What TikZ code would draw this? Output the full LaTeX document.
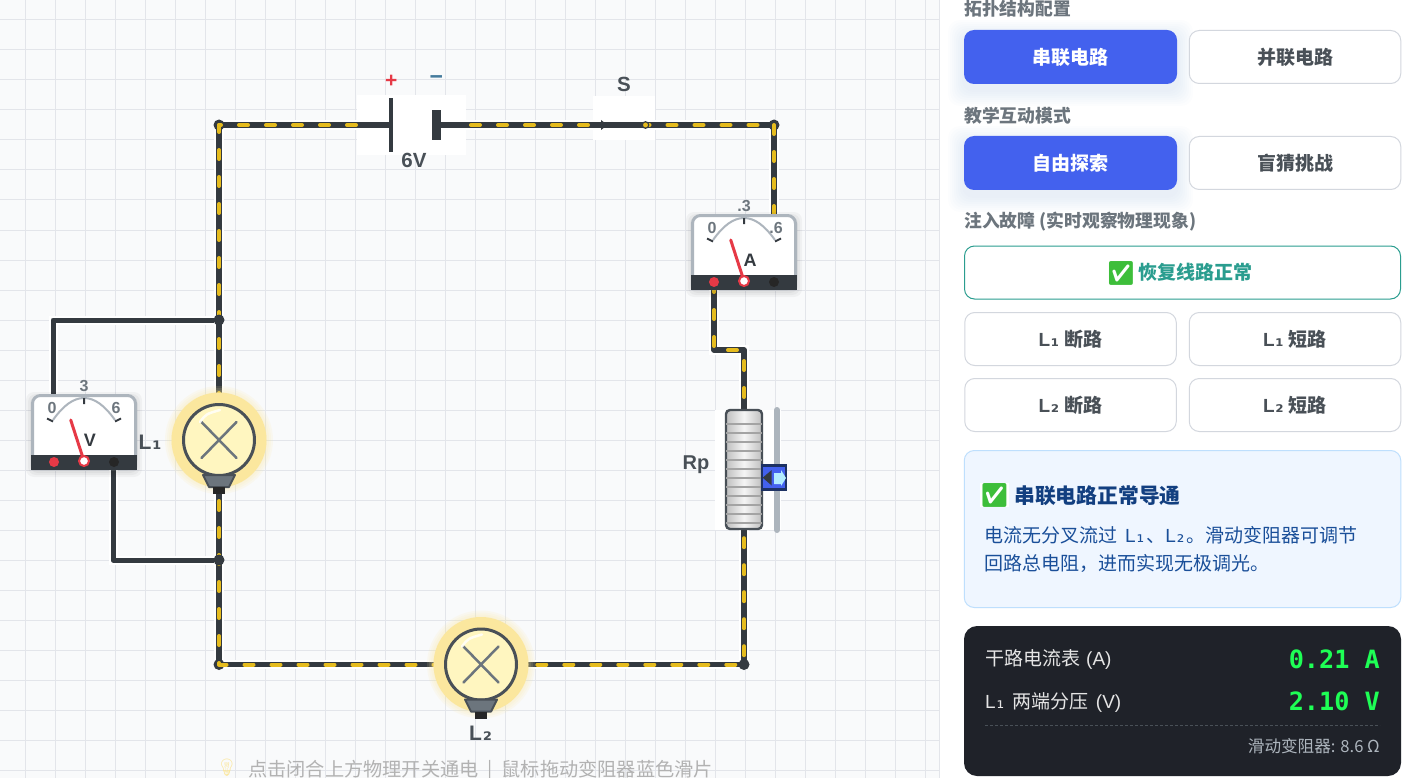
\documentclass[tikz,border=0pt]{standalone}
\usepackage{fontspec}
\setmainfont{Liberation Sans}
\newfontfamily\cjk{Noto Sans CJK SC}
\newfontfamily\mono{DejaVu Sans Mono}
\newfontfamily\emoji{Noto Emoji}
\newfontfamily\dejavu{DejaVu Sans}
\usetikzlibrary{arrows}
\pgfdeclarelayer{gridlayer}
\pgfdeclarelayer{wirelayer}
\pgfsetlayers{gridlayer,wirelayer,main}
\newcommand{\fs}[1]{\fontsize{#1}{#1}\selectfont}
\newcommand{\Lone}{{\rmfamily L\kern.8pt{\dejavu ₁}\kern.8pt}}
\newcommand{\Ltwo}{{\rmfamily L\kern.8pt{\dejavu ₂}\kern.8pt}}
\definecolor{canvasbg}{HTML}{F9FAFB}
\definecolor{gridcol}{HTML}{E3E5EA}
\definecolor{wiredark}{HTML}{343A40}
\definecolor{wireyel}{HTML}{E6BC1E}
\definecolor{rimgray}{HTML}{ADB5BD}
\definecolor{needlered}{HTML}{E63946}
\definecolor{minusblue}{HTML}{457B9D}
\definecolor{textgray}{HTML}{495057}
\definecolor{titlegray}{HTML}{6C757D}
\definecolor{btnblue}{HTML}{4361EE}
\definecolor{btnline}{HTML}{D3D7DE}
\definecolor{okteal}{HTML}{2A9D8F}
\definecolor{okgreen}{HTML}{3DBE3A}
\definecolor{infofill}{HTML}{EFF6FF}
\definecolor{infoline}{HTML}{BEDFFD}
\definecolor{infohead}{HTML}{123F80}
\definecolor{infotext}{HTML}{1A4F99}
\definecolor{darkpanel}{HTML}{1F2229}
\definecolor{lcdgreen}{HTML}{1EFF55}
\definecolor{glowcol}{HTML}{FBE79E}
\definecolor{glasscol}{HTML}{FFF6C0}
\definecolor{navy}{HTML}{1D3163}
\tikzset{
  pics/meter/.style n args={4}{code={
    \foreach \s in {1,3,5}
      \fill[black,opacity=.035,rounded corners=8pt] (-\s,3-\s) rectangle (106+\s,76+2+\s);
    \node[meter body] (-body) at (53,38) {};
    \fill[wiredark] (0,61) rectangle (106,76);
    \draw[rimgray,line width=2pt] (22,26) .. controls (32,12) and (42,4) .. (53,4) .. controls (64,4) and (74,12) .. (84,26);
    \draw[wiredark,line width=2pt] (16,24.5) -- (22,27.5) (53,4) -- (53,10) (90,24.5) -- (84,27.5);
    \node[meter scale] (-lo) at (21,13.5) {#2};
    \node[meter scale] (-mid) at (53,-8) {#3};
    \node[meter scale] (-hi) at (85,13.5) {#4};
    \node[meter sym] (-sym) at (59,46.5) {#1};
    \draw[needlered,line width=3pt,line cap=round] (53,67) -- (39.7,26);
    \fill[needlered] (23,68) circle (5);
    \fill[black!85] (83,68) circle (5);
    \draw[needlered,fill=white,line width=2pt] (53,67) circle (5);
  }},
  pics/lamp/.style={code={
    \foreach \s in {1,3,5,7}
      \fill[glowcol,opacity=.12] (0,0) circle (47+\s);
    \fill[glowcol] (0,0) circle (47.5);
    \node[lamp glass] (-glass) at (0,0) {};
    \draw[titlegray,line width=2.5pt,line cap=round] (-17.5,-18) -- (17.5,18) (17.5,-18) -- (-17.5,18);
    \draw[white,opacity=.8,line width=2.5pt,line cap=round] (-19,-18) .. controls (-13,-26) .. (1,-30);
    \draw[fill=titlegray,draw=textgray,line width=2pt,line join=round] (-16,35) -- (16,35) -- (10,47) -- (-10,47) -- cycle;
    \fill[black!85] (-6,47) rectangle (6,54);
  }},
}
\begin{document}
\begin{tikzpicture}[x=1pt,y=-1pt,
  gridline/.style={gridcol,line width=1pt},
  wire/.style={wiredark,line width=5.5pt,line join=round,preaction={draw=white,line width=9.5pt}},
  lead/.style={wiredark,line width=5pt,line join=round,preaction={draw=white,line width=9pt}},
  flow/.style={wireyel,line width=4pt,line join=round,line cap=round,dash pattern=on 9pt off 18pt,dash phase=#1},
  junction/.style={circle,fill=wiredark,minimum size=11pt,inner sep=0pt},
  plate/.style={rectangle,fill=wiredark,inner sep=0pt},
  meter body/.style={rectangle,draw=rimgray,fill=white,line width=3pt,rounded corners=8pt,
  minimum width=103pt,minimum height=73pt,inner sep=0pt},
  meter scale/.style={font=\bfseries\fs{16},text=titlegray,inner sep=0pt},
  meter sym/.style={font=\bfseries\fs{18},text=wiredark,inner sep=0pt},
  lamp glass/.style={circle,draw=textgray,fill=glasscol,line width=3pt,minimum size=71pt,inner sep=0pt},
  part label/.style={font=\bfseries\fs{20.5},text=textgray,inner sep=0pt},
  sub label/.style={font=\bfseries\fs{21},text=textgray,inner sep=0pt},
  section/.style={font=\cjk\bfseries\fs{17.8},text=titlegray,anchor=west,inner sep=0pt},
  btn on/.style={rectangle,fill=btnblue,text=white,rounded corners=10pt,font=\cjk\bfseries\fs{19},
  minimum width=213pt,minimum height=54pt,inner sep=0pt},
  btn off/.style={rectangle,draw=btnline,fill=white,text=textgray,line width=1pt,rounded corners=10pt,
  font=\cjk\bfseries\fs{19},minimum width=211.5pt,minimum height=53pt,inner sep=0pt},
  okbox/.style={rectangle,fill=white,text=okgreen,font=\emoji\fs{23.5},minimum size=17pt,inner sep=0pt},
  readout/.style={font=\cjk\fs{19},text=white!90!black,anchor=west,inner sep=0pt},
  lcd/.style={font=\mono\bfseries\fs{25.2},text=lcdgreen,anchor=east,inner sep=0pt}]

  \useasboundingbox (0,0) rectangle (1410,778);

  \begin{pgfonlayer}{gridlayer}
    %Page and grid%
    \fill[canvasbg] (0,0) rectangle (940,778);
    \foreach \x in {25,55,...,925}
      \draw[gridline] (\x,0) -- (\x,778);
    \foreach \y in {20,50,...,770}
      \draw[gridline] (0,\y) -- (940,\y);
    \fill[white] (940,0) rectangle (1410,778);
    \draw[gridcol] (939.5,0) -- (939.5,778);
  \end{pgfonlayer}

  %Corners and ports%
  \coordinate (tl) at (219,125);
  \coordinate (tr) at (774,125);
  \coordinate (bl) at (219,664.5);
  \coordinate (br) at (744,664.5);
  \coordinate (kneeA) at (714,350);
  \coordinate (kneeB) at (744,350);
  \coordinate (Vtop) at (53,394);
  \coordinate (Vbot) at (113,470);
  \coordinate (Atop) at (774,214);
  \coordinate (Abot) at (714,290);
  \coordinate (batL) at (357,125);
  \coordinate (batR) at (466,125);
  \coordinate (swL) at (592,125);

  %Battery%
  \node[plate,minimum width=4pt,minimum height=54pt] (batP) at (391,125) {};
  \node[plate,minimum width=9pt,minimum height=30pt] (batN) at (436.5,125) {};
  \node[font=\bfseries\fs{21},text=needlered,inner sep=0pt] (plus) at (391.3,81.5) {+};
  \node[font=\bfseries\fs{23},text=minusblue,inner sep=0pt] (minus) at (436.3,80.5) {−};
  \node[part label] (bat6V) at (414,160) {6V};

  %Switch%
  \node[part label] (swS) at (624,84.5) {S};
  \node[circle,fill=wireyel,draw=wiredark,line width=1.2pt,minimum size=6.5pt,inner sep=0pt] (swR) at (645.5,125) {};
  \fill[wiredark] (601,120) -- (607.5,125) -- (601,130) -- cycle;

  %Meters%
  \pic (V) at (31,394) {meter={V}{0}{3}{6}};
  \pic (A) at (691,214) {meter={A}{0}{.3}{.6}};

  %Lamps%
  \pic (L1) at (219,440) {lamp};
  \pic (L2) at (481,664.5) {lamp};
  \node[sub label] (L1name) at (150.5,442) {\Lone};
  \node[sub label] (L2name) at (481,733.5) {\Ltwo};

  %Rheostat%
  \draw[rimgray,line width=6pt,line cap=round] (777,410) -- (777,530);
  \node[rectangle,draw=textgray,line width=2.4pt,rounded corners=4pt,left color=black!25,right color=black!25,
  middle color=white!96!black,minimum width=36pt,minimum height=119pt,inner sep=0pt] (Rp) at (744,469.5) {};
  \foreach \y in {424,433,...,524}
    \draw[black!36,line width=1.5pt] (726,\y) -- (762,\y);
  \node[rectangle,draw=navy,fill=btnblue,line width=2.4pt,minimum size=24pt,inner sep=0pt] (slider) at (774,477.5) {};
  \fill[wiredark] (762.7,477.7) -- (771.7,470) -- (771.7,485.5) -- cycle;
  \fill[blue!25!cyan!30!white] (774,473) -- (781,473) -- (781,470) -- (786,478) -- (781,486) -- (781,484) -- (774,484) -- cycle;
  \node[part label,font=\bfseries\fs{20}] (RpName) at (696,465) {Rp};

  %Hint under the circuit%
  \node[font=\emoji\fs{17},text=glowcol,inner sep=0pt] (bulb) at (227,768) {💡};
  \node[font=\cjk\fs{19.2},text=black!30,anchor=west,inner sep=0pt] (hint) at (248,771) {点击闭合上方物理开关通电\hspace{9pt}|\hspace{9pt}鼠标拖动变阻器蓝色滑片};

  \begin{pgfonlayer}{wirelayer}
    %White patches behind the parts%
    \fill[white] (357,95) rectangle (466,155);
    \fill[white] (593,96) rectangle (655,140);
    \fill[white] (715,410) rectangle (781,530);

    %Voltmeter leads%
    \draw[lead] (Vtop) |- (219,320);
    \draw[lead] (Vbot) |- (219,560);

    %Main loop, dark core%
    \draw[wire] (batP.center) -- (tl) -- (bl) -- (br) -- (Rp.south);
    \draw[wire] (batN.center) -- (tr) -- (Atop);
    \draw[wire] (Abot) -- (kneeA) -- (kneeB) -- (Rp.north);

    %Corner dots%
    \node[junction] (dotTL) at (tl) {};
    \node[junction] (dotTR) at (tr) {};
    \node[junction] (dotBL) at (bl) {};
    \node[junction] (dotBR) at (br) {};

    %Moving charges%
    \draw[flow=2] (tl) -- (bl) -- (L2-glass.center);
    \draw[flow=7] (tl) -- (batL);
    \draw[flow=22] (batR) -- (swL);
    \draw[flow=5] (swR.center) -- (tr);
    \draw[flow=0] (tr) -- (Atop);
    \draw[flow=7] (Abot) -- (kneeA) -- (kneeB) -- (Rp.north);
    \draw[flow=19] (Rp.south) -- (br) -- (L2-glass.center);

    %Branch dots%
    \node[junction] (dotUp) at (219,320) {};
    \node[junction] (dotDn) at (219,560) {};
  \end{pgfonlayer}

  %Panel: topology%
  \node[section] (secTopo) at (964,9) {拓扑结构配置};
  \foreach \t in {30,136}
    \foreach \s in {2,4,...,16}
      \fill[btnblue,opacity=.012,rounded corners=12pt] (964-\s,\t+6-\s) rectangle (1177+\s,\t+60+\s);
  \node[btn on] (btnSeries) at (1070.5,57) {串联电路};
  \node[btn off] (btnParallel) at (1295,57) {并联电路};

  %Panel: mode%
  \node[section] (secMode) at (964,116) {教学互动模式};
  \node[btn on] (btnFree) at (1070.5,163) {自由探索};
  \node[btn off] (btnGuess) at (1295,163) {盲猜挑战};

  %Panel: faults%
  \node[section] (secFault) at (964,222) {注入故障 (实时观察物理现象)};
  \node[btn off,draw=okteal,minimum width=436pt,text=okteal] (btnFix) at (1182.5,272.5) {\hspace{26pt}恢复线路正常};
  \node[okbox] (okFix) at (1121,273) {✅};
  \node[btn off] (btnL1open) at (1070.5,339) {\Lone{} 断路};
  \node[btn off] (btnL1short) at (1295,339) {\Lone{} 短路};
  \node[btn off] (btnL2open) at (1070.5,405) {\Ltwo{} 断路};
  \node[btn off] (btnL2short) at (1295,405) {\Ltwo{} 短路};

  %Panel: info box%
  \node[rectangle,draw=infoline,fill=infofill,line width=1pt,rounded corners=10pt,minimum width=436.5pt,
  minimum height=157pt,inner sep=0pt] (infoBox) at (1182.5,529) {};
  \node[okbox] (okInfo) at (994.5,495) {✅};
  \node[font=\cjk\bfseries\fs{20.8},text=infohead,anchor=west,inner sep=0pt] (infoHead) at (1014,495.5) {串联电路正常导通};
  \node[font=\cjk\fontsize{19}{28}\selectfont,text=infotext,anchor=west,align=left,inner sep=0pt] (infoBody) at (984,549)
    {电流无分叉流过\hspace{8pt}\Lone\kern1.5pt、\Ltwo\kern1.5pt。滑动变阻器可调节\\回路总电阻，进而实现无极调光。};

  %Panel: readings%
  \node[rectangle,fill=darkpanel,rounded corners=13pt,minimum width=437pt,minimum height=150pt,inner sep=0pt] (lcdBox) at (1182.5,701) {};
  \node[readout] (readA) at (985,659.5) {干路电流表\hspace{6pt}{\rmfamily (A)}};
  \node[readout] (readV) at (985,702) {\Lone\hspace{8pt}两端分压\hspace{7pt}{\rmfamily (V)}};
  \node[lcd] (valA) at (1380,659) {0.21 A};
  \node[lcd] (valV) at (1380,701.5) {2.10 V};
  \draw[textgray,line width=.8pt,dash pattern=on 3pt off 2pt] (readV.west |- 0,725.5) -- (valV.east |- 0,725.5);
  \node[font=\cjk\fs{16.6},text=rimgray,anchor=east,inner sep=0pt] (valR) at (1380,746.5) {滑动变阻器: 8.6 Ω};

\end{tikzpicture}
\end{document}
